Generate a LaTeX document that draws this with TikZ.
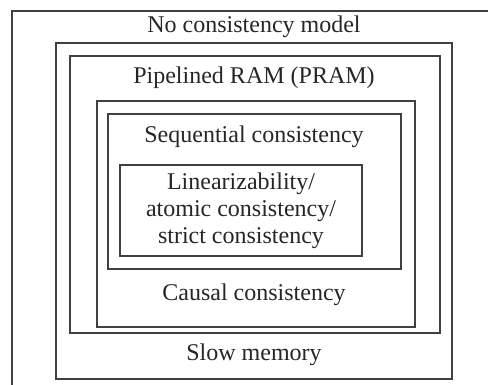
\documentclass[tikz,border=0pt]{standalone}
\usepackage{fontspec}
\setmainfont{Liberation Serif}
\usetikzlibrary{positioning}
\begin{document}
\begin{tikzpicture}[
    x=0.5pt, y=-0.5pt,
    box/.style={draw=black!75, line width=1pt},
    lbl/.style={font=\fontsize{12}{13.5}\selectfont, align=center,
                inner sep=0pt, text=black!85},
    one/.style={lbl, anchor=base},
]
\useasboundingbox (0,0) rectangle (488,385);
% nested models, weakest outside (outermost one runs off the page)
\draw[box] (500,11) -- (12,11) -- (12,400);
\draw[box] (56,43) rectangle (452,379);
\draw[box] (70,56) rectangle (440,333);
\draw[box] (97,101) rectangle (415,327);
\draw[box] (108,114) rectangle (401,269);
\draw[box] (120,165) rectangle (362,256);
\node[one] (none) at (254,33) {No consistency model};
\node[one] (pram) at (254,84) {Pipelined RAM (PRAM)};
\node[one] (seq) at (254,143) {Sequential consistency};
\node[lbl] (lin) at (241,211)
   {Linearizability/\\atomic consistency/\\strict consistency};
\node[one] (causal) at (254,300) {Causal consistency};
\node[one] (slow) at (254,360) {Slow memory};
\end{tikzpicture}
\end{document}
